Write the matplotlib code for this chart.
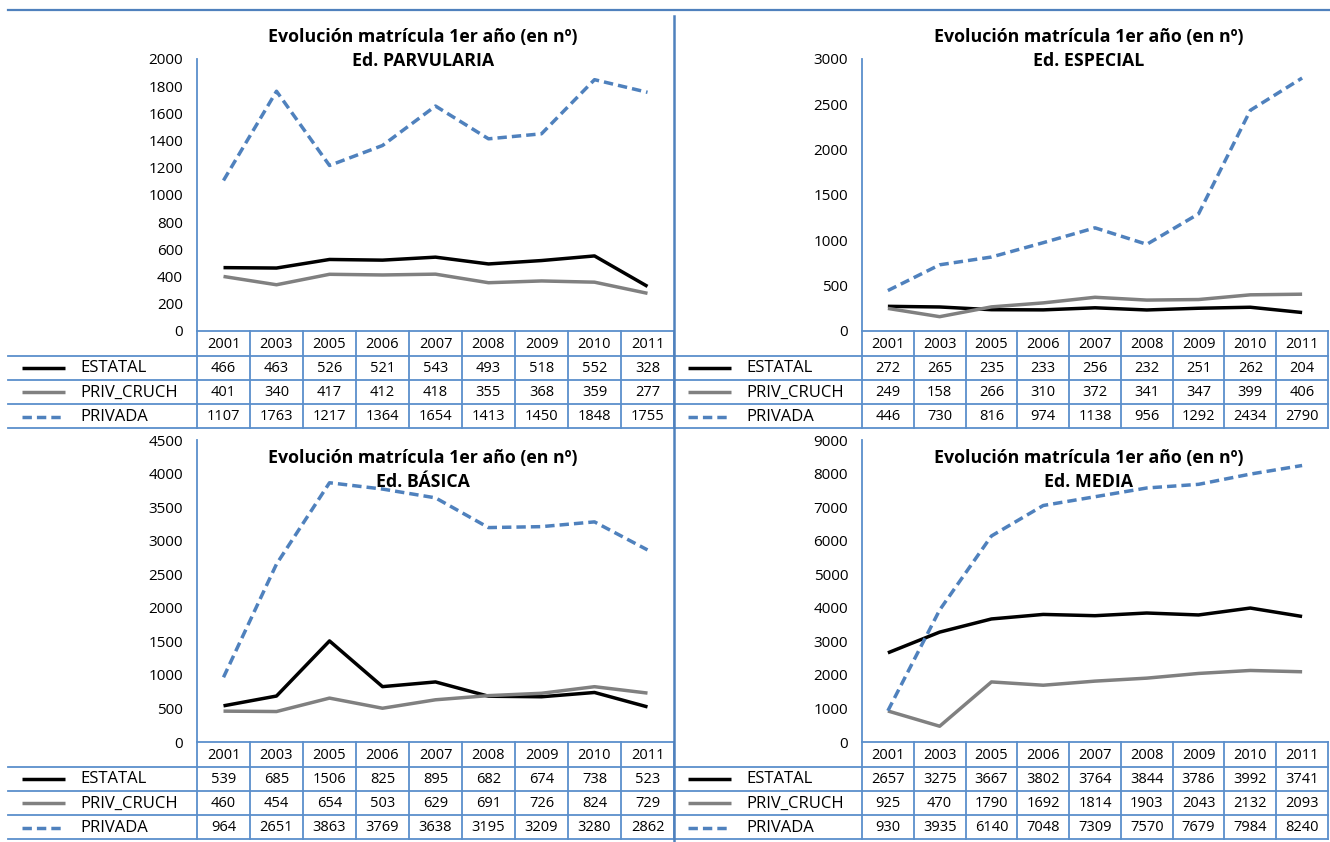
import matplotlib
matplotlib.use('Agg')
import matplotlib.pyplot as plt
import matplotlib.transforms as mtransforms
from matplotlib.lines import Line2D

# ---------------- data ----------------
years = ['2001', '2003', '2005', '2006', '2007', '2008', '2009', '2010', '2011']
series_names = ['ESTATAL', 'PRIV_CRUCH', 'PRIVADA']

parv_estatal = [466, 463, 526, 521, 543, 493, 518, 552, 328]
parv_priv_cruch = [401, 340, 417, 412, 418, 355, 368, 359, 277]
parv_privada = [1107, 1763, 1217, 1364, 1654, 1413, 1450, 1848, 1755]

esp_estatal = [272, 265, 235, 233, 256, 232, 251, 262, 204]
esp_priv_cruch = [249, 158, 266, 310, 372, 341, 347, 399, 406]
esp_privada = [446, 730, 816, 974, 1138, 956, 1292, 2434, 2790]

bas_estatal = [539, 685, 1506, 825, 895, 682, 674, 738, 523]
bas_priv_cruch = [460, 454, 654, 503, 629, 691, 726, 824, 729]
bas_privada = [964, 2651, 3863, 3769, 3638, 3195, 3209, 3280, 2862]

med_estatal = [2657, 3275, 3667, 3802, 3764, 3844, 3786, 3992, 3741]
med_priv_cruch = [925, 470, 1790, 1692, 1814, 1903, 2043, 2132, 2093]
med_privada = [930, 3935, 6140, 7048, 7309, 7570, 7679, 7984, 8240]

main_title = 'Evolución matrícula 1er año (en nº)'
sub_titles = ['Ed. PARVULARIA', 'Ed. ESPECIAL', 'Ed. BÁSICA', 'Ed. MEDIA']
y_max = [2000, 3000, 4500, 9000]
y_step = [200, 500, 500, 1000]

panel_data = [
    [parv_estatal, parv_priv_cruch, parv_privada],
    [esp_estatal, esp_priv_cruch, esp_privada],
    [bas_estatal, bas_priv_cruch, bas_privada],
    [med_estatal, med_priv_cruch, med_privada],
]

# ---------------- style ----------------
W, H = 1330, 842
BLUE = '#4F81BD'
GRID = '#5B8FCB'
COLORS = ['#000000', '#808080', BLUE]
DASH = (0, (2.7, 1.45))
FONT = 'Open Sans'
plt.rcParams['font.family'] = [FONT, 'DejaVu Sans']

fig = plt.figure(figsize=(W / 100, H / 100), dpi=100)
pix = mtransforms.Affine2D().scale(1.0 / W, -1.0 / H).translate(0, 1.0) + fig.transFigure

# geometry (pixels): panel left, axis left, axis right, axis top, axis bottom
geoms = [
    dict(pl=8, al=197, ar=674, at=59, ab=331, ty=37),
    dict(pl=674, al=862, ar=1328, at=59, ab=331, ty=37),
    dict(pl=8, al=197, ar=674, at=440, ab=742, ty=458),
    dict(pl=674, al=862, ar=1328, at=440, ab=742, ty=458),
]
ROW_H = 24.3
HEAD_H = 24.5

for k, g in enumerate(geoms):
    ax = fig.add_axes([g['al'] / W, 1 - g['ab'] / H, (g['ar'] - g['al']) / W, (g['ab'] - g['at']) / H])
    x = list(range(len(years)))
    for i, (name, vals) in enumerate(zip(series_names, panel_data[k])):
        ax.plot(x, vals, color=COLORS[i], lw=2.5, solid_capstyle='butt', dash_capstyle='butt',
                linestyle=DASH if i == 2 else '-')
    ax.set_xlim(-0.5, len(years) - 0.5)
    ax.set_ylim(0, y_max[k])
    ax.set_yticks(range(0, y_max[k] + 1, y_step[k]))
    ax.set_xticks([])
    ax.tick_params(axis='y', length=0, pad=10, labelsize=11)
    for s in ['top', 'right']:
        ax.spines[s].set_visible(False)
    for s in ['left', 'bottom']:
        ax.spines[s].set_color(GRID)
        ax.spines[s].set_linewidth(1.3)
    ax.patch.set_alpha(0)

    # titles
    cx = g['pl'] + 415
    fig.text(cx / W, 1 - g['ty'] / H, main_title, ha='center', va='center',
             fontsize=12.8, fontweight='bold')
    fig.text(cx / W, 1 - (g['ty'] + 24) / H, sub_titles[k], ha='center', va='center',
             fontsize=12.8, fontweight='bold')

    # table
    bt = mtransforms.blended_transform_factory(ax.transData, pix)
    y_head_top = g['ab']
    y_head_bot = y_head_top + HEAD_H
    row_lines = [y_head_bot + r * ROW_H for r in range(4)]
    table_bottom = row_lines[-1]
    for c in range(len(years) + 1):
        xb = c - 0.5
        ax.add_line(Line2D([xb, xb], [y_head_top, table_bottom], transform=bt,
                           color=GRID, lw=1.3, clip_on=False))
    for yl in row_lines:
        fig.add_artist(Line2D([g['pl'], g['ar']], [yl, yl], transform=pix, color=GRID, lw=1.3))
    for c, yr in enumerate(years):
        ax.text(c, (y_head_top + y_head_bot) / 2 + 1, yr, transform=bt, ha='center', va='center',
                fontsize=10.5, clip_on=False)
    for r, (name, vals) in enumerate(zip(series_names, panel_data[k])):
        yc = row_lines[r] + ROW_H / 2 + 0.5
        for c, v in enumerate(vals):
            ax.text(c, yc, str(v), transform=bt, ha='center', va='center', fontsize=10.5, clip_on=False)
        fig.add_artist(Line2D([g['pl'] + 14, g['pl'] + 57], [yc, yc], transform=pix,
                              color=COLORS[r], lw=2.5, dash_capstyle='butt', solid_capstyle='butt',
                              linestyle=DASH if r == 2 else '-'))
        fig.text((g['pl'] + 72) / W, 1 - yc / H, name, ha='left', va='center', fontsize=12)

# frame / separators
fig.add_artist(Line2D([8, W], [10, 10], transform=pix, color=BLUE, lw=1.6))
fig.add_artist(Line2D([674, 674], [16, H], transform=pix, color=BLUE, lw=1.8))

fig.savefig('out.png', dpi=100)
